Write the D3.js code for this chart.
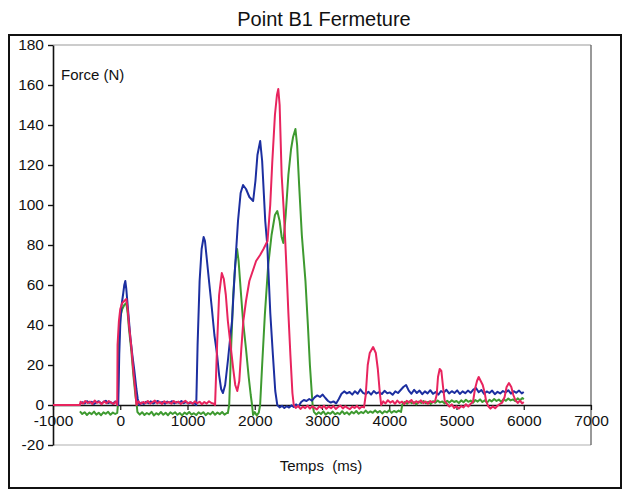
<!DOCTYPE html>
<html><head><meta charset="utf-8">
<script src="https://cdn.jsdelivr.net/npm/d3@7"></script>
<style>
html,body{margin:0;padding:0;background:#fff;}
svg{display:block;font-family:"Liberation Sans",Arial,sans-serif;}
</style></head>
<body>
<svg id="chart" width="627" height="492"></svg>
<script>
const chartTitle = "Point B1 Fermeture";
const yLabel = "Force (N)";
const xLabel = "Temps  (ms)";
const xTicks = [-1000,0,1000,2000,3000,4000,5000,6000,7000];
const yTicks = [-20,0,20,40,60,80,100,120,140,160,180];

const greenData = [[-600,-3.2],[-565,-4.5],[-530,-3.6],[-495,-5],[-460,-3.8],[-425,-4.6],[-390,-3.3],[-355,-4.8],[-320,-3.9],[-285,-5.1],[-250,-3.7],[-215,-4.4],[-180,-3.4],[-145,-4.9],[-110,-3.8],[-75,-4.5],[-45,-3.9],
[-35,0],[-25,28],[0,44],[30,48],[60,50],[90,51],[110,46],[130,38],[165,27],[195,15],[225,5],[245,0],[255,-3.5],
[290,-4.8],[325,-3.6],[360,-5],[395,-4],[430,-4.7],[465,-3.4],[500,-5.2],[535,-4.1],[570,-4.8],[605,-3.5],[640,-4.9],[675,-3.9],[710,-5.1],[745,-3.7],[780,-4.5],[815,-3.6],[850,-4.9],[885,-4],[920,-5.2],[955,-3.8],[990,-4.6],[1025,-3.5],[1060,-4.8],[1095,-4.1],[1130,-5],[1165,-3.7],[1200,-4.5],[1235,-3.6],[1270,-5.1],[1305,-4],[1340,-4.7],[1375,-3.4],[1410,-4.9],[1445,-3.8],[1480,-4.6],[1515,-3.5],[1550,-4.8],[1585,-4],
[1600,-4],[1620,0],[1650,30],[1680,55],[1710,70],[1737,78],[1760,72],[1790,58],[1826,42],[1870,28],[1910,14],[1940,5],[1960,0],[1975,-5],[2000,-3.5],[2030,-5.2],[2060,-3.8],
[2080,0],[2110,20],[2150,45],[2200,70],[2250,85],[2300,95],[2335,97],[2370,92],[2400,84],[2425,81],[2460,95],[2500,115],[2540,128],[2570,134],[2605,138],[2630,130],[2660,110],[2700,85],[2754,62],[2790,40],[2820,20],[2850,5],[2860,0],
[2880,-3.4],[2915,-4.8],[2950,-3.6],[2985,-4.5],[3020,-3.2],[3055,-4.9],[3090,-3.8],[3125,-4.4],[3160,-3.3],[3195,-4.7],[3230,-3.9],[3265,-4.6],[3300,-3.1],[3335,-4.5],[3370,-3.6],[3405,-4.8],[3440,-3.4],[3475,-4.2],[3510,-3],[3545,-4.4],[3580,-3.5],[3615,-4.1],[3650,-2.8],[3685,-4],[3720,-3.2],[3755,-3.9],[3790,-2.7],[3825,-3.8],[3860,-3],[3895,-4.2],[3930,-3.1],[3965,-3.7],[4000,-2.6],[4035,-3.9],[4070,-3],[4105,-3.6],[4140,-2.8],[4175,-3.5],
[4195,0.4],[4230,1.5],[4265,0.6],[4300,1.8],[4335,0.9],[4370,1.4],[4405,0.3],[4440,1.7],[4475,1],[4510,2],[4545,0.8],[4580,1.6],[4615,0.5],[4650,1.9],[4685,1.1],[4720,2.2],[4755,1.3],[4790,1.8],[4825,0.7],[4860,2.1],[4895,1.2],[4930,2.4],[4965,1.5],[5000,2],[5035,1],[5070,2.3],[5105,1.4],[5140,2.6],[5175,1.6],[5210,2.2],[5245,1.1],[5280,2.5],[5315,1.7],[5350,2.8],[5385,1.5],[5420,2.3],[5455,1.2],[5490,2.6],[5525,1.8],[5560,3],[5595,2],[5630,2.7],[5665,1.6],[5700,2.9],[5735,2.1],[5770,3.2],[5805,2.3],[5840,2.8],[5875,1.9],[5910,3.3],[5945,2.4],[5980,3.5],[6000,2.8]];

const blueData = [[-600,0.4],[-565,1.4],[-530,0.8],[-495,1.9],[-460,1.1],[-425,1.6],[-390,0.5],[-355,1.3],[-320,1.9],[-285,0.7],[-250,1.5],[-215,2.1],[-180,0.9],[-145,1.4],[-110,0.6],[-75,1.7],[-45,0.8],
[-30,0],[-15,25],[0,40],[20,50],[45,56],[60,60],[75,62],[90,58],[105,52],[120,46],[150,34],[180,25],[210,17],[240,8],[260,3],[285,0],
[315,1.2],[350,0.5],[385,1.6],[420,0.9],[455,1.8],[490,0.7],[525,1.4],[560,2],[595,1],[630,1.5],[665,0.6],[700,1.7],[735,1.1],[770,1.9],[805,0.8],[840,1.5],[875,1.1],[910,2],[945,0.9],[980,1.6],[1015,0.7],[1050,1.3],[1085,0.6],[1115,1],
[1130,0],[1150,30],[1180,62],[1210,78],[1240,84],[1260,82],[1290,72],[1320,62],[1360,49],[1400,35],[1437,26],[1470,15],[1500,8],[1527,6],[1560,10],[1600,22],[1630,32],[1662,42],[1700,65],[1751,92],[1790,106],[1826,110],[1870,108],[1920,104],[1976,102],[2010,112],[2040,125],[2081,132],[2110,122],[2156,92],[2186,80],[2231,46],[2270,25],[2305,7],[2335,0],
[2370,-1.2],[2405,-0.4],[2440,-1.5],[2475,-0.6],[2510,-1.3],[2545,-0.2],[2580,-1],[2615,0.3],[2650,-0.8],[2690,1.5],[2730,2.5],[2770,2],[2810,3],[2850,2.2],[2890,3.8],[2930,4.8],[2970,4],[3010,5.2],[3050,3.5],[3090,2],[3130,1.2],[3170,1.8],[3210,0.8],[3250,3],[3290,5.6],[3330,6.8],[3370,5.8],[3410,6.5],[3450,5.2],[3490,6.9],[3530,5.6],[3570,7.8],[3610,6.1],[3650,5.4],[3690,6.6],[3730,5.2],[3770,7],[3810,5.8],[3850,6.4],[3890,5.5],[3930,7.1],[3970,5.9],[4010,6.3],[4050,5.1],[4090,6.8],[4130,6],[4170,7.5],[4210,9],[4250,10],[4290,7.2],[4330,5.6],[4370,7.6],[4410,6],[4450,7.2],[4490,5.4],[4530,6.8],[4570,5.8],[4610,7.4],[4650,5.6],[4690,6.5],[4730,5.2],[4770,7],[4810,6.2],[4850,7.6],[4890,5.8],[4930,6.9],[4970,6],[5010,7.3],[5050,5.5],[5090,6.8],[5130,5.9],[5170,7.2],[5210,6.1],[5250,7.7],[5290,8.5],[5330,6.4],[5370,7.5],[5410,5.6],[5450,6.8],[5490,6],[5530,7.2],[5570,5.4],[5610,6.6],[5650,5.8],[5690,7],[5730,6.2],[5770,7.4],[5810,5.7],[5850,6.9],[5890,6.1],[5930,7.2],[5970,5.8],[6000,6.5]];

const redData = [[-1000,0],[-600,0],[-590,1.6],[-555,0.6],[-520,2],[-485,1],[-450,1.7],[-415,0.5],[-380,2.2],[-345,1.1],[-310,1.6],[-275,0.4],[-240,1.8],[-205,0.9],[-170,2],[-135,1.2],[-100,0.5],[-70,1.7],[-50,0.6],
[-45,0],[-40,30],[-20,42],[0,48],[30,51],[60,52],[90,53],[110,48],[130,40],[165,29],[195,17],[225,7],[240,0],
[270,1.8],[305,0.6],[340,1.5],[375,0.9],[410,2],[445,0.7],[480,1.4],[515,2.2],[550,0.8],[585,1.6],[620,0.5],[655,1.9],[690,1],[725,1.5],[760,0.6],[795,2],[830,1.1],[865,1.7],[900,0.5],[935,1.4],[970,2.1],[1005,0.8],[1040,1.5],[1075,0.6],[1110,1.8],[1145,0.9],[1180,1.6],[1215,0.4],[1250,1.5],[1285,0.7],[1320,1.9],[1355,1],[1390,0.6],
[1410,0],[1440,30],[1470,55],[1510,66],[1540,63],[1570,55],[1600,42],[1640,30],[1680,18],[1710,10],[1740,7],[1770,12],[1800,28],[1830,42],[1870,52],[1920,62],[1960,66],[2020,72],[2080,75],[2130,78],[2190,82],[2230,100],[2260,121],[2300,145],[2330,155],[2350,158],[2370,150],[2400,115],[2430,98],[2455,81],[2480,62],[2500,46],[2530,25],[2560,6],[2580,0],
[2610,-1.5],[2645,-0.4],[2680,-2],[2715,-0.8],[2750,-1.6],[2785,-0.3],[2820,-1.8],[2855,-0.6],[2890,-1.4],[2925,-2.2],[2960,-0.7],[2995,-1.5],[3030,-0.4],[3065,-1.9],[3100,-0.8],[3135,-1.6],[3170,-0.5],[3205,-2],[3240,-1],[3275,-0.3],[3310,-1.7],[3345,-0.6],[3380,-1.4],[3415,-2.1],[3450,-0.8],[3485,-1.5],[3520,-0.4],[3555,-1.8],[3590,-0.9],[3625,-1.2],
[3650,5],[3680,20],[3710,26],[3760,29],[3800,26],[3830,18],[3860,6],[3880,0],
[3910,1.8],[3945,0.8],[3980,2.4],[4015,1.2],[4050,2],[4085,0.6],[4120,2.2],[4155,1],[4190,1.7],[4225,0.5],[4260,2.1],[4295,1.2],[4330,2.5],[4365,0.8],[4400,1.9],[4435,1.1],[4470,2.3],[4505,0.9],[4540,1.7],[4575,0.6],[4610,2],[4645,1.3],[4680,1.8],
[4705,5],[4725,14],[4750,18],[4775,17],[4800,9],[4825,2],[4860,0.5],[4895,-0.8],[4930,0.3],[4965,-1.5],[5000,-0.6],[5035,-1.8],[5070,-0.5],[5105,-1.2],[5140,0.4],[5175,-0.8],[5210,0.6],[5245,1.5],
[5275,8],[5305,12],[5330,14],[5360,12],[5390,10],[5420,6],[5440,2],[5470,-0.5],[5505,-1.8],[5540,-0.7],[5575,-1.6],[5610,-0.4],[5645,0.5],[5680,1.2],[5715,4],[5745,9],[5780,11],[5815,9],[5845,5],[5875,2.5],[5910,1],[5945,2.2],[5975,0.8],[6000,1.5]];

const seriesList = [
  {name:"green", data: greenData, color:"#3e9a30"},
  {name:"blue", data: blueData, color:"#1c2fa0"},
  {name:"red", data: redData, color:"#e8245e"}
];

const svg = d3.select("#chart");
const x = d3.scaleLinear().domain([-1000, 7000]).range([53, 591]);
const y = d3.scaleLinear().domain([-20, 180]).range([445, 45]);
const plainFmt = d => String(d);

// outer frame
svg.append("rect").attr("x", 9).attr("y", 35).attr("width", 612).attr("height", 453)
  .attr("fill", "none").attr("stroke", "#111").attr("stroke-width", 2);

// title
svg.append("text").attr("x", 324).attr("y", 26).attr("text-anchor", "middle")
  .attr("font-size", 20).attr("fill", "#111").text(chartTitle);

// plot area border
svg.append("path")
  .attr("d", `M${x(-1000)},${y(180)}H${x(7000)}`)
  .attr("stroke", "#9a9a9a").attr("stroke-width", 1.2).attr("fill", "none");
svg.append("path")
  .attr("d", `M${x(-1000)},${y(-20)}H${x(7000)}`)
  .attr("stroke", "#b0b0b0").attr("stroke-width", 1.2).attr("fill", "none");
svg.append("path")
  .attr("d", `M${x(7000)},${y(180)}V${y(-20)}`)
  .attr("stroke", "#555").attr("stroke-width", 1.2).attr("fill", "none");

// y axis
const yAxis = svg.append("g").attr("transform", `translate(${x(-1000)},0)`)
  .call(d3.axisLeft(y).tickValues(yTicks).tickFormat(plainFmt).tickSize(5).tickSizeOuter(0).tickPadding(4));
yAxis.select(".domain").attr("stroke", "#111").attr("stroke-width", 1.6);
yAxis.selectAll(".tick line").attr("stroke", "#111").attr("stroke-width", 1.4);
yAxis.selectAll(".tick text").attr("font-size", 15.5).attr("fill", "#111")
  .attr("font-family", "'Liberation Sans', Arial, sans-serif");

// x axis at y=0
const xAxis = svg.append("g").attr("transform", `translate(0,${y(0)})`)
  .call(d3.axisBottom(x).tickValues(xTicks).tickFormat(plainFmt).tickSize(5).tickSizeOuter(0).tickPadding(5));
xAxis.select(".domain").attr("stroke", "#111").attr("stroke-width", 1.4);
xAxis.selectAll(".tick line").attr("stroke", "#111").attr("stroke-width", 1.2);
xAxis.selectAll(".tick text").attr("font-size", 15.5).attr("fill", "#111")
  .attr("font-family", "'Liberation Sans', Arial, sans-serif");

// axis titles
svg.append("text").attr("x", 61).attr("y", 80).attr("font-size", 15).attr("fill", "#111").text(yLabel);
svg.append("text").attr("x", 321).attr("y", 471).attr("text-anchor", "middle")
  .attr("font-size", 15).attr("fill", "#111").style("white-space", "pre").text(xLabel);

// series
const line = d3.line().x(d => x(d[0])).y(d => y(d[1]));
svg.append("g").selectAll("path").data(seriesList).join("path")
  .attr("d", s => line(s.data))
  .attr("fill", "none").attr("stroke", s => s.color).attr("stroke-width", 2)
  .attr("stroke-linejoin", "round");
</script>
</body></html>
